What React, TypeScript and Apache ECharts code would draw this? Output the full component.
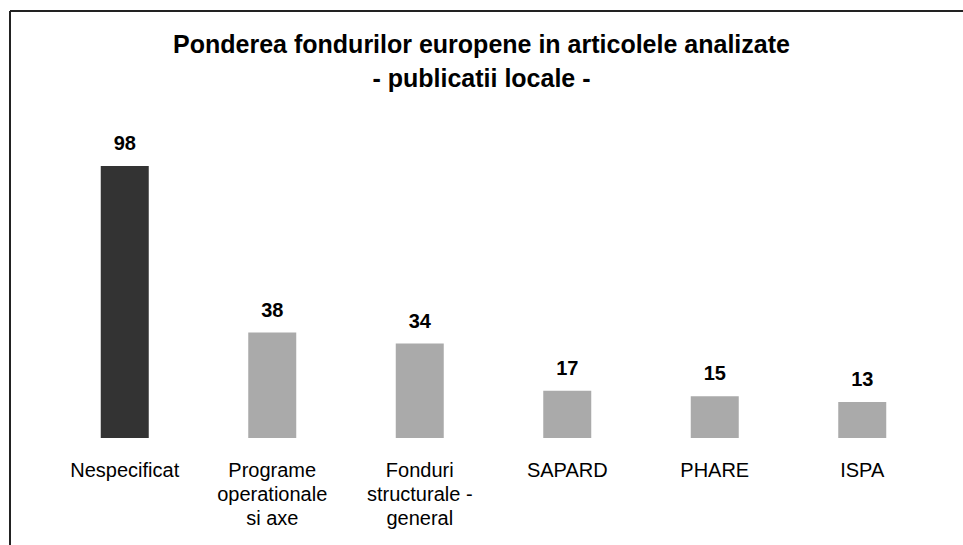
import React, { useEffect, useRef } from "react";
import * as echarts from "echarts";

const categories = [
  "Nespecificat",
  "Programe\noperationale\nsi axe",
  "Fonduri\nstructurale -\ngeneral",
  "SAPARD",
  "PHARE",
  "ISPA",
];
const values = [98, 38, 34, 17, 15, 13];
const barColors = ["#333333", "#aaaaaa", "#aaaaaa", "#aaaaaa", "#aaaaaa", "#aaaaaa"];
const titleLines = ["Ponderea fondurilor europene in articolele analizate", "- publicatii locale -"];

export default function App() {
  const ref = useRef<HTMLDivElement>(null);
  useEffect(() => {
    if (!ref.current) return;
    const chart = echarts.init(ref.current, null, { renderer: "svg" });
    const font = "'Liberation Sans', Arial, sans-serif";
    chart.setOption({
      animation: false,
      backgroundColor: "#ffffff",
      title: [
        {
          text: titleLines[0],
          left: "center",
          top: 31,
          padding: 0,
          textStyle: { fontFamily: font, fontWeight: "bold", fontSize: 25, lineHeight: 26, color: "#000" },
        },
        {
          text: titleLines[1],
          left: "center",
          top: 65,
          padding: 0,
          textStyle: { fontFamily: font, fontWeight: "bold", fontSize: 25, lineHeight: 26, color: "#000" },
        },
      ],
      graphic: [
        { type: "line", shape: { x1: 10, y1: 11, x2: 963, y2: 11 }, style: { stroke: "#222", lineWidth: 2 } },
        { type: "line", shape: { x1: 10, y1: 11, x2: 10, y2: 545 }, style: { stroke: "#222", lineWidth: 2 } },
      ],
      grid: { left: 51, right: 27, top: 160.4, bottom: 545 - 438, containLabel: false },
      xAxis: {
        type: "category",
        data: categories,
        axisLine: { show: false },
        axisTick: { show: false },
        axisLabel: {
          interval: 0,
          margin: 20,
          fontFamily: font,
          fontSize: 20,
          lineHeight: 24,
          color: "#000",
          verticalAlign: "top",
        },
      },
      yAxis: {
        type: "value",
        min: 0,
        max: 100,
        show: false,
        splitLine: { show: false },
      },
      series: [
        {
          type: "bar",
          barWidth: 48,
          data: values.map((v, i) => ({ value: v, itemStyle: { color: barColors[i] } })),
          label: {
            show: true,
            position: "top",
            distance: 13,
            fontFamily: font,
            fontWeight: "bold",
            fontSize: 20,
            color: "#000",
          },
        },
      ],
    });
    return () => chart.dispose();
  }, []);
  return (
    <div
      ref={ref}
      style={{ position: "fixed", left: 0, top: 0, width: 963, height: 545 }}
    />
  );
}
